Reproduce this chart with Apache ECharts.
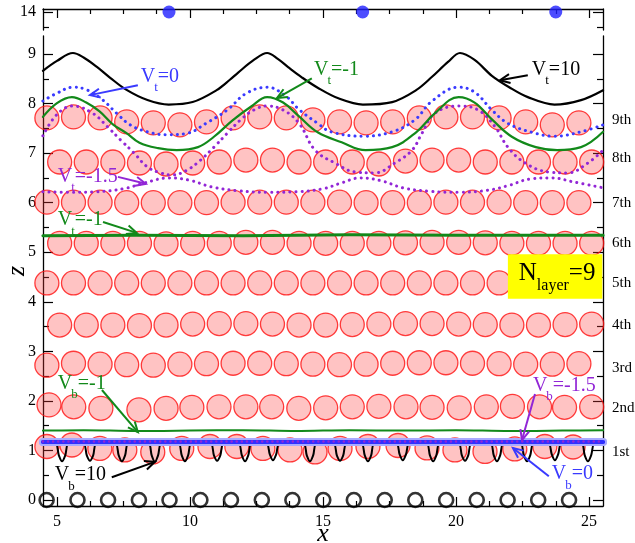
<!DOCTYPE html>
<html><head><meta charset="utf-8">
<script src="https://cdn.jsdelivr.net/npm/echarts@6/dist/echarts.min.js"></script>
<style>html,body{margin:0;padding:0;background:#fff}#c{width:635px;height:543px}</style>
</head><body><div id="c"></div>
<script>
// ---------- axis ticks ----------
const xMajor = [5, 10, 15, 20, 25];
const xMinor = [6.25, 7.5, 8.75, 11.25, 12.5, 13.75, 16.25, 17.5, 18.75, 21.25, 22.5, 23.75];
const zMajor = [0, 1, 2, 3, 4, 5, 6, 7, 8, 9];
const zMinor = [0.5, 1.5, 2.5, 3.5, 4.5, 5.5, 6.5, 7.5, 8.5];
const topMajor = [14];
const topMinor = [13.5];
const layerNames = ['1st', '2nd', '3rd', '4th', '5th', '6th', '7th', '8th', '9th'];
const layerLabelZ = [0.97, 1.86, 2.66, 3.53, 4.38, 5.19, 5.99, 6.9, 7.67];

// ---------- wall particles ----------
const topWallX = [9.21, 16.49, 23.75];
const topWallZ = [14, 14, 14];
const bottomWallX = [4.61, 5.77, 6.92, 8.08, 9.23, 10.39, 11.54, 12.70, 13.85, 15.01, 16.16, 17.32, 18.47, 19.63, 20.78, 21.94, 23.09, 24.25];
const bottomWallZ = [0, 0, 0, 0, 0, 0, 0, 0, 0, 0, 0, 0, 0, 0, 0, 0, 0, 0];

// ---------- particle layers ----------
const rowAX = [4.62, 5.62, 6.62, 7.62, 8.62, 9.62, 10.62, 11.62, 12.62, 13.62, 14.62, 15.62, 16.62, 17.62, 18.62, 19.62, 20.62, 21.62, 22.62, 23.62, 24.62];
const rowBX = [5.1, 6.1, 7.1, 8.1, 9.1, 10.1, 11.1, 12.1, 13.1, 14.1, 15.1, 16.1, 17.1, 18.1, 19.1, 20.1, 21.1, 22.1, 23.1, 24.1, 25.1];
const layer1X = [4.62, 5.56, 6.61, 7.55, 8.6, 9.69, 10.75, 11.76, 12.74, 13.76, 14.7, 15.64, 16.69, 17.82, 18.91, 19.96, 21.09, 22.21, 23.34, 24.4];
const layer1Z = [1.08, 1.11, 1.04, 1.01, 0.97, 1.04, 1.08, 1.08, 1.04, 1.01, 0.97, 1.04, 1.08, 1.1, 1.05, 1.01, 0.98, 1.03, 1.08, 1.07];
const layer2X = [4.7, 5.63, 6.65, 8.08, 9.1, 10.07, 11.09, 12.1, 13.07, 14.09, 15.1, 16.1, 17.1, 18.12, 19.1, 20.12, 21.14, 22.12, 23.14, 24.08, 25.1];
const layer2Z = [1.92, 1.88, 1.85, 1.82, 1.85, 1.87, 1.88, 1.88, 1.88, 1.85, 1.86, 1.88, 1.89, 1.88, 1.87, 1.86, 1.88, 1.89, 1.88, 1.87, 1.88];
const layer3Z = [2.72, 2.76, 2.74, 2.73, 2.72, 2.74, 2.75, 2.76, 2.76, 2.75, 2.74, 2.73, 2.74, 2.76, 2.77, 2.77, 2.76, 2.75, 2.74, 2.74, 2.75];
const layer4Z = [3.53, 3.53, 3.53, 3.52, 3.53, 3.55, 3.56, 3.56, 3.55, 3.53, 3.53, 3.54, 3.55, 3.56, 3.56, 3.55, 3.54, 3.53, 3.53, 3.54, 3.55];
const layer5Z = [4.38, 4.38, 4.38, 4.38, 4.38, 4.38, 4.38, 4.38, 4.38, 4.38, 4.38, 4.38, 4.38, 4.38, 4.38, 4.38, 4.38, 4.38, 4.38, 4.38, 4.38];
const layer6Z = [5.18, 5.18, 5.18, 5.18, 5.17, 5.18, 5.18, 5.2, 5.2, 5.18, 5.18, 5.18, 5.18, 5.19, 5.2, 5.2, 5.19, 5.18, 5.18, 5.18, 5.18];
const layer7Z = [6.01, 6.01, 6.01, 6.0, 6.0, 6.0, 6.0, 6.01, 6.01, 6.01, 6.01, 6.01, 6.0, 6.0, 6.0, 6.01, 6.01, 6.01, 6.0, 6.0, 6.0];
const layer8Z = [6.82, 6.82, 6.82, 6.8, 6.78, 6.8, 6.82, 6.86, 6.86, 6.82, 6.82, 6.82, 6.78, 6.84, 6.86, 6.86, 6.82, 6.82, 6.82, 6.82, 6.82];
const layer9Z = [7.71, 7.73, 7.71, 7.63, 7.61, 7.57, 7.63, 7.71, 7.73, 7.71, 7.67, 7.63, 7.61, 7.63, 7.71, 7.73, 7.73, 7.71, 7.63, 7.57, 7.61];

// ---------- interface profiles ----------
const topV10 = [[4.47,8.66],[5.0,8.86],[5.6,9.02],[6.0,8.93],[6.5,8.74],[7.0,8.52],[7.6,8.28],[8.4,8.07],[9.2,7.98],[10.1,8.03],[11.0,8.27],[11.5,8.48],[11.8,8.62],[12.4,8.88],[12.9,9.02],[13.3,8.9],[13.7,8.73],[14.2,8.53],[14.8,8.32],[15.6,8.1],[16.5,7.98],[17.6,8.03],[18.5,8.27],[19.1,8.54],[19.7,8.84],[20.15,9.02],[20.7,8.88],[21.35,8.56],[22.0,8.33],[22.7,8.13],[23.7,7.98],[24.7,8.07],[25.53,8.27]];
const topVm1 = [[4.47,7.73],[5.0,8.01],[5.56,8.13],[6.1,8.02],[6.6,7.84],[7.1,7.58],[7.6,7.41],[8.1,7.21],[8.8,7.1],[9.5,7.06],[10.3,7.12],[10.9,7.33],[11.6,7.66],[12.3,7.94],[12.9,8.13],[13.5,8.02],[14.1,7.74],[14.8,7.42],[15.7,7.22],[16.6,7.06],[17.6,7.12],[18.5,7.42],[19.2,7.8],[20.1,8.13],[20.7,8.02],[21.35,7.68],[22.1,7.33],[23.0,7.12],[23.8,7.06],[24.7,7.12],[25.53,7.43]];
const topV0 = [[4.47,8.05],[5.0,8.21],[5.6,8.33],[6.1,8.28],[6.7,8.08],[7.25,7.8],[7.75,7.57],[8.4,7.43],[9.1,7.37],[9.9,7.4],[10.6,7.6],[11.4,7.87],[12.1,8.2],[12.9,8.33],[13.6,8.15],[14.1,7.88],[14.8,7.6],[15.3,7.43],[16.5,7.34],[17.6,7.43],[18.45,7.67],[19.1,8.05],[20.1,8.33],[20.7,8.23],[21.35,7.87],[21.95,7.6],[22.85,7.42],[23.7,7.34],[24.7,7.43],[25.53,7.57]];
const topVm15a = [[4.47,7.35],[5.0,7.78],[5.6,7.95],[6.35,7.8],[6.9,7.53],[7.4,7.26],[7.9,7.0],[8.4,6.72],[8.9,6.6],[9.35,6.56],[9.9,6.66],[10.4,6.86],[10.9,7.12],[11.4,7.4],[11.9,7.67],[12.4,7.87],[12.9,7.95],[13.5,7.87],[14.1,7.6],[14.7,7.06],[15.45,6.8],[16.2,6.62],[16.95,6.6],[17.7,6.8],[18.35,7.06],[18.72,7.4],[19.2,7.8],[20.08,7.95],[20.83,7.87],[21.47,7.53],[21.95,7.12],[22.6,6.8],[23.46,6.62],[24.2,6.6],[24.96,6.8],[25.53,7.06]];
const topVm15b = [[4.47,6.22],[5.5,6.21],[6.5,6.22],[7.5,6.28],[8.3,6.4],[9.2,6.5],[10.0,6.45],[10.8,6.32],[11.8,6.24],[12.9,6.21],[14.0,6.22],[15.0,6.28],[15.7,6.4],[16.4,6.5],[17.2,6.44],[18.0,6.3],[19.0,6.23],[20.1,6.21],[21.2,6.25],[22.0,6.35],[22.8,6.48],[23.6,6.5],[24.4,6.42],[25.53,6.3]];
const sixthVm1 = [[4.47,5.33],[8,5.34],[12,5.33],[16,5.35],[20,5.34],[25.53,5.34]];
const botVm1 = [[4.47,1.4],[6,1.41],[8,1.39],[10,1.4],[12,1.41],[14,1.39],[16,1.41],[18,1.4],[20,1.41],[22,1.39],[24,1.4],[25.53,1.41]];
const botV0 = [[4.47,1.17],[8,1.17],[12,1.17],[16,1.17],[20,1.17],[25.53,1.17]];
const botVm15 = [[4.47,1.18],[8,1.18],[12,1.18],[16,1.18],[20,1.18],[25.53,1.18]];
const botV10 = [[4.47,1.15],
 [4.94,1.15],[5.07,0.9],[5.19,0.78],[5.31,0.9],[5.44,1.15],
 [5.99,1.15],[6.12,0.9],[6.24,0.79],[6.36,0.9],[6.49,1.15],
 [7.19,1.15],[7.32,0.9],[7.44,0.78],[7.56,0.9],[7.69,1.15],
 [8.43,1.15],[8.56,0.9],[8.68,0.77],[8.8,0.9],[8.93,1.15],
 [9.56,1.15],[9.69,0.9],[9.81,0.78],[9.93,0.9],[10.06,1.15],
 [10.77,1.15],[10.9,0.9],[11.02,0.79],[11.14,0.9],[11.27,1.15],
 [11.82,1.15],[11.95,0.9],[12.07,0.78],[12.19,0.9],[12.32,1.15],
 [12.87,1.15],[13.0,0.92],[13.12,0.8],[13.24,0.92],[13.37,1.15],
 [14.26,1.15],[14.39,0.9],[14.51,0.78],[14.63,0.9],[14.76,1.15],
 [15.39,1.15],[15.52,0.9],[15.64,0.79],[15.76,0.9],[15.89,1.15],
 [16.44,1.15],[16.57,0.9],[16.69,0.78],[16.81,0.9],[16.94,1.15],
 [17.75,1.15],[17.88,0.92],[18.0,0.8],[18.12,0.92],[18.25,1.15],
 [18.89,1.15],[19.02,0.9],[19.14,0.78],[19.26,0.9],[19.39,1.15],
 [20.09,1.15],[20.22,0.9],[20.34,0.79],[20.46,0.9],[20.59,1.15],
 [21.29,1.15],[21.42,0.9],[21.54,0.78],[21.66,0.9],[21.79,1.15],
 [22.42,1.15],[22.55,0.9],[22.67,0.78],[22.79,0.9],[22.92,1.15],
 [23.47,1.15],[23.6,0.92],[23.72,0.8],[23.84,0.92],[23.97,1.15],
 [24.71,1.15],[24.84,0.9],[24.96,0.78],[25.08,0.9],[25.21,1.15],
 [25.53,1.15]];

// ---------- annotations (anchor in data coords) ----------
const BLUE = '#3a3aff', GREEN = '#12891a', PURPLE = '#9226d6', BLACK = '#000000';
const annotations = [
  {at:[8.15,8.545], main:'V', sub:'t', rest:'=0',   color:BLUE,   arrow:[[8.04,8.37],[6.24,8.17]]},
  {at:[14.66,8.68], main:'V', sub:'t', rest:'=-1',  color:GREEN,  arrow:[[14.58,8.51],[13.27,8.11]]},
  {at:[22.85,8.68], main:'V', sub:'t', rest:'=10',  color:BLACK,  arrow:[[22.7,8.57],[21.65,8.47]]},
  {at:[5.03,6.53],  main:'V', sub:'t', rest:'=-1.5',color:PURPLE, arrow:[[7.29,6.52],[8.34,6.38]]},
  {at:[5.03,5.65],  main:'V', sub:'t', rest:'=-1',  color:GREEN,  arrow:[[6.73,5.61],[8.0,5.39]]},
  {at:[5.03,2.35],  main:'V', sub:'b', rest:'=-1',  color:GREEN,  arrow:[[6.69,2.22],[8.04,1.37]]},
  {at:[4.92,0.50],  main:'V', sub:'b', rest:'=10',  color:BLACK,  arrow:[[7.06,0.46],[8.68,0.77]]},
  {at:[22.89,2.31], main:'V', sub:'b', rest:'=-1.5',color:PURPLE, arrow:[[22.97,2.14],[22.48,1.21]]},
  {at:[23.6,0.52],  main:'V', sub:'b', rest:'=0',   color:BLUE,   arrow:[[23.49,0.48],[22.14,1.05]]}
];
const nBox = {from:[21.95,4.96], to:[25.5,4.06], textAt:[22.36,4.58]};

// ---------- chart ----------
const FONT = '"Liberation Serif", "Times New Roman", serif';
const chart = echarts.init(document.getElementById('c'), null, {renderer:'canvas'});
const X0 = 4.474, X1 = 25.526;

function zip(xs, zs){ return xs.map((x,i)=>[x, zs[i]]); }
const layers = [
  zip(layer1X, layer1Z), zip(layer2X, layer2Z), zip(rowAX, layer3Z), zip(rowBX, layer4Z),
  zip(rowAX, layer5Z), zip(rowBX, layer6Z), zip(rowAX, layer7Z), zip(rowBX, layer8Z), zip(rowAX, layer9Z)
];

function xAx(grid, pos, ticks, len, showLine, labels, extra){
  return Object.assign({
    type:'value', gridIndex:grid, position:pos, min:X0, max:X1,
    axisLine:{show:showLine, onZero:false, lineStyle:{color:'#000', width:1.3}},
    axisTick:{show:true, inside:true, length:len, customValues:ticks, lineStyle:{color:'#000', width:1.2}},
    axisLabel:{show:labels, customValues:ticks, fontFamily:FONT, fontSize:16, color:'#000', margin:8},
    splitLine:{show:false}
  }, extra||{});
}
function yAx(grid, pos, min, max, ticks, len, showLine, labels, extra){
  return Object.assign({
    type:'value', gridIndex:grid, position:pos, min:min, max:max,
    axisLine:{show:showLine, onZero:false, lineStyle:{color:'#000', width:1.3}},
    axisTick:{show:true, inside:true, length:len, customValues:ticks, lineStyle:{color:'#000', width:1.2}},
    axisLabel:{show:labels, customValues:ticks, fontFamily:FONT, fontSize:16, color:'#000', margin:7},
    splitLine:{show:false}
  }, extra||{});
}

const ZMIN = -0.121, ZMAX = 9.363, TMIN = 13.4, TMAX = 14.1;

const series = [];
layers.forEach(function(d){
  series.push({type:'scatter', xAxisIndex:2, yAxisIndex:4, data:d, symbol:'circle', symbolSize:24, z:2, silent:true,
    itemStyle:{color:'rgba(255,60,60,0.38)', borderColor:'#ff1010', borderWidth:1.3}});
});
function ln(data, color, width, type, smooth, z){
  return {type:'line', xAxisIndex:2, yAxisIndex:4, data:data, symbol:'none', smooth:smooth, z:z||3, silent:true,
    lineStyle:{color:color, width:width, type:type||'solid', cap:'round', join:'round'}};
}
series.push(ln(botV10, BLACK, 2, 'solid', 0.3, 3));
series.push(ln(botV0, '#a9aaff', 8, 'solid', false, 3));
series.push(ln(botV0, '#3030ff', 4, 'solid', false, 3));
series.push(ln(botVm15, PURPLE, 2.5, [0.1, 5], false, 3));
series.push(ln(botVm1, GREEN, 2, 'solid', 0.3, 3));
series.push(ln(sixthVm1, GREEN, 3, 'solid', false, 3));
series.push(ln(topVm15b, PURPLE, 3, [0.1, 6], 0.4, 3));
series.push(ln(topVm15a, PURPLE, 3, [0.1, 6], 0.4, 3));
series.push(ln(topV0, BLUE, 3, [0.1, 6], 0.4, 3));
series.push(ln(topVm1, GREEN, 2.2, 'solid', 0.4, 3));
series.push(ln(topV10, BLACK, 2.2, 'solid', 0.35, 3));
series.push({type:'scatter', xAxisIndex:2, yAxisIndex:4, data:zip(bottomWallX, bottomWallZ), symbol:'circle', symbolSize:14, z:4, silent:true,
  itemStyle:{color:'rgba(0,0,0,0)', borderColor:'#000', borderWidth:2.6}});
series.push({type:'scatter', xAxisIndex:0, yAxisIndex:0, data:zip(topWallX, topWallZ), symbol:'circle', symbolSize:13, z:4, silent:true,
  itemStyle:{color:'#2121ff'}});

chart.setOption({
  animation:false,
  backgroundColor:'#fff',
  grid:[
    {left:43, right:32, top:9, height:21, outerBoundsMode:'none', containLabel:false},
    {left:43, right:32, top:36, bottom:37, outerBoundsMode:'none', containLabel:false}
  ],
  xAxis:[
    xAx(0, 'top', xMajor, 9, true, false),
    xAx(0, 'top', xMinor, 5, false, false),
    xAx(1, 'bottom', xMajor, 9, true, true, {name:'x', nameLocation:'middle', nameGap:15, nameMoveOverlap:false,
      nameTextStyle:{fontFamily:FONT, fontStyle:'italic', fontSize:26, color:'#000'}}),
    xAx(1, 'bottom', xMinor, 5, false, false)
  ],
  yAxis:[
    yAx(0, 'left', TMIN, TMAX, topMajor, 10, true, true),
    yAx(0, 'left', TMIN, TMAX, topMinor, 6, false, false),
    yAx(0, 'right', TMIN, TMAX, topMajor, 10, true, false),
    yAx(0, 'right', TMIN, TMAX, topMinor, 6, false, false),
    yAx(1, 'left', ZMIN, ZMAX, zMajor, 10, true, true, {name:'z', nameLocation:'middle', nameGap:13, nameRotate:90, nameMoveOverlap:false,
      nameTextStyle:{fontFamily:FONT, fontStyle:'italic', fontSize:26, color:'#000'}}),
    yAx(1, 'left', ZMIN, ZMAX, zMinor, 6, false, false),
    yAx(1, 'right', ZMIN, ZMAX, zMajor, 10, true, false),
    yAx(1, 'right', ZMIN, ZMAX, zMinor, 6, false, false)
  ],
  series:series
});

// ---------- annotation graphics ----------
const mctx = document.createElement('canvas').getContext('2d');
function tw(t, size){ mctx.font = size + 'px ' + FONT; return mctx.measureText(t).width; }
function P(d){ return chart.convertToPixel({seriesIndex:0}, d); }
function T(x, y, t, size, color){
  return {type:'text', x:x, y:y, z:100, silent:true,
    style:{text:t, font:size + 'px ' + FONT, fill:color, textAlign:'left', textVerticalAlign:'middle', align:'left', verticalAlign:'middle'}};
}
function arrow(a, b, color){
  const p1 = P(a), p2 = P(b);
  const ang = Math.atan2(p1[1]-p2[1], p1[0]-p2[0]);
  const L = 11, s = 0.42;
  const h1 = [p2[0] + L*Math.cos(ang+s), p2[1] + L*Math.sin(ang+s)];
  const h2 = [p2[0] + L*Math.cos(ang-s), p2[1] + L*Math.sin(ang-s)];
  return [
    {type:'line', z:100, silent:true, shape:{x1:p1[0], y1:p1[1], x2:p2[0], y2:p2[1]}, style:{stroke:color, lineWidth:2}},
    {type:'polyline', z:100, silent:true, shape:{points:[h1, p2, h2]}, style:{stroke:color, lineWidth:2, fill:null}}
  ];
}
const els = [];
const MS = 20, SS = 13;
annotations.forEach(function(a){
  const p = P(a.at);
  let x = p[0];
  els.push(T(x, p[1], a.main, MS, a.color));
  x += tw(a.main, MS) - 1;
  els.push(T(x, p[1] + 0.56*MS, a.sub, SS, a.color));
  x += tw(a.sub, SS);
  els.push(T(x, p[1], a.rest, MS, a.color));
  arrow(a.arrow[0], a.arrow[1], a.color).forEach(e => els.push(e));
});
// N_layer box
(function(){
  const p1 = P(nBox.from), p2 = P(nBox.to), pt = P(nBox.textAt);
  els.push({type:'rect', z:90, silent:true, shape:{x:p1[0], y:p1[1], width:p2[0]-p1[0], height:p2[1]-p1[1]}, style:{fill:'#ffff00'}});
  let x = pt[0];
  const BS = 25, BSS = 16;
  els.push(T(x, pt[1], 'N', BS, '#000'));
  x += tw('N', BS);
  els.push(T(x, pt[1] + 0.5*BS, 'layer', BSS, '#000'));
  x += tw('layer', BSS);
  els.push(T(x, pt[1], '=9', BS, '#000'));
})();
// layer names on the right
layerNames.forEach(function(n, i){
  const p = P([X1, layerLabelZ[i]]);
  els.push(T(p[0] + 9, p[1], n, 15, '#000'));
});
chart.setOption({graphic:{elements:els}});
</script></body></html>
